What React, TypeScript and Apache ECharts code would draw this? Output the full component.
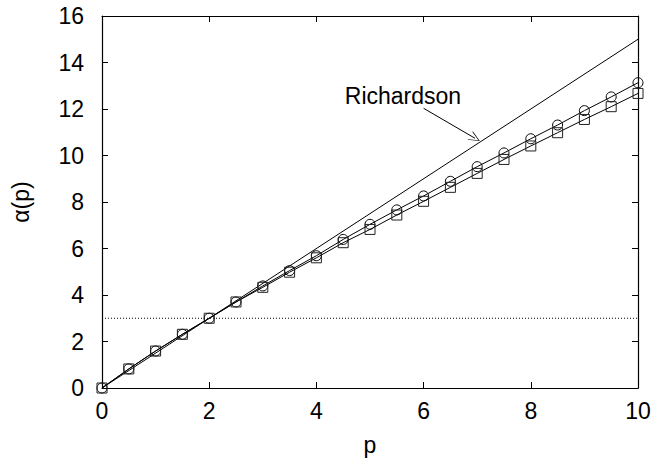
import React, { useEffect, useRef } from "react";
import * as echarts from "echarts";

// Sample points p and the two measured α(p) curves
const pValues = [0, 0.5, 1, 1.5, 2, 2.5, 3, 3.5, 4, 4.5, 5, 5.5, 6, 6.5, 7, 7.5, 8, 8.5, 9, 9.5, 10];
const alphaCircles = [0, 0.82, 1.59, 2.31, 3.0, 3.7, 4.39, 5.05, 5.69, 6.39, 7.04, 7.66, 8.26, 8.89, 9.52, 10.11, 10.72, 11.31, 11.93, 12.52, 13.13];
const alphaSquares = [0, 0.82, 1.59, 2.31, 3.0, 3.7, 4.33, 4.98, 5.6, 6.25, 6.82, 7.44, 8.03, 8.63, 9.23, 9.83, 10.41, 10.98, 11.55, 12.1, 12.67];

// Richardson law: α = 3p/2
const richardsonP = [0, 10];
const richardsonAlpha = [0, 15];

// Horizontal reference level
const refP = [0, 10];
const refAlpha = [3, 3];

// Annotation arrow (data coordinates) and its label
const arrowFrom = [6, 12.03];
const arrowTo = [6.96, 10.74];
const labelAt = [4.53, 12.55];
const annotationText = "Richardson";

const xTicks = { min: 0, max: 10, interval: 2 };
const yTicks = { min: 0, max: 16, interval: 2 };

const FONT = "'Liberation Sans', Arial, Helvetica, sans-serif";
const FONT_SIZE = 23;
const INK = "#000";

const zip = (xs: number[], ys: number[]) => xs.map((x, i) => [x, ys[i]]);

// Open chevron used as the arrowhead
const chevron = "path://M0,12 L5,0 L10,12 L9.2,12 L5,1.8 L0.8,12 Z";

export default function App() {
  const ref = useRef<HTMLDivElement>(null);

  useEffect(() => {
    if (!ref.current) return;
    const chart = echarts.init(ref.current, null, { renderer: "svg" });

    const baseAxis = {
      type: "value" as const,
      splitLine: { show: false },
      axisLine: { show: true, onZero: false, lineStyle: { color: INK, width: 1.2 } },
      axisTick: { show: true, inside: true, length: 6, lineStyle: { color: INK, width: 1 } },
    };
    const textStyle = { fontFamily: FONT, fontSize: FONT_SIZE, color: INK };

    chart.setOption({
      animation: false,
      backgroundColor: "#fff",
      grid: {
        left: 102,
        right: 18,
        top: 16,
        bottom: 72,
        outerBoundsMode: "none",
        containLabel: false,
      },
      xAxis: [
        {
          ...baseAxis,
          ...xTicks,
          name: "p",
          nameLocation: "middle",
          nameGap: 45,
          nameTextStyle: textStyle,
          axisLabel: { margin: 11, ...textStyle },
        },
        {
          ...baseAxis,
          ...xTicks,
          position: "top",
          axisLabel: { show: false },
        },
      ],
      yAxis: [
        {
          ...baseAxis,
          ...yTicks,
          name: "α(p)",
          nameLocation: "middle",
          nameGap: 70,
          nameTextStyle: textStyle,
          axisLabel: { margin: 18, ...textStyle },
        },
        {
          ...baseAxis,
          ...yTicks,
          position: "right",
          axisLabel: { show: false },
        },
      ],
      series: [
        {
          type: "line",
          data: zip(refP, refAlpha),
          showSymbol: false,
          lineStyle: { color: INK, width: 1, type: [1, 2] },
          silent: true,
        },
        {
          type: "line",
          data: zip(richardsonP, richardsonAlpha),
          showSymbol: false,
          lineStyle: { color: INK, width: 1 },
          silent: true,
          markLine: {
            silent: true,
            symbol: ["none", chevron],
            symbolSize: [10, 11],
            label: { show: false },
            lineStyle: { color: INK, width: 1, type: "solid" },
            data: [[{ coord: arrowFrom }, { coord: arrowTo }]],
          },
          markPoint: {
            silent: true,
            symbol: "circle",
            symbolSize: 0,
            data: [{ coord: labelAt }],
            label: {
              show: true,
              position: "right",
              distance: 0,
              formatter: annotationText,
              ...textStyle,
            },
          },
        },
        {
          type: "line",
          data: zip(pValues, alphaCircles),
          symbol: "circle",
          symbolSize: 10,
          showAllSymbol: true,
          lineStyle: { color: INK, width: 1 },
          itemStyle: { color: "transparent", borderColor: INK, borderWidth: 1 },
          z: 3,
        },
        {
          type: "line",
          data: zip(pValues, alphaSquares),
          symbol: "rect",
          symbolSize: 10,
          showAllSymbol: true,
          lineStyle: { color: INK, width: 1 },
          itemStyle: { color: "transparent", borderColor: "#222", borderWidth: 1 },
          z: 3,
        },
      ],
    });

    return () => chart.dispose();
  }, []);

  return <div ref={ref} style={{ width: 656, height: 460, position: "absolute", left: 0, top: 0 }} />;
}
